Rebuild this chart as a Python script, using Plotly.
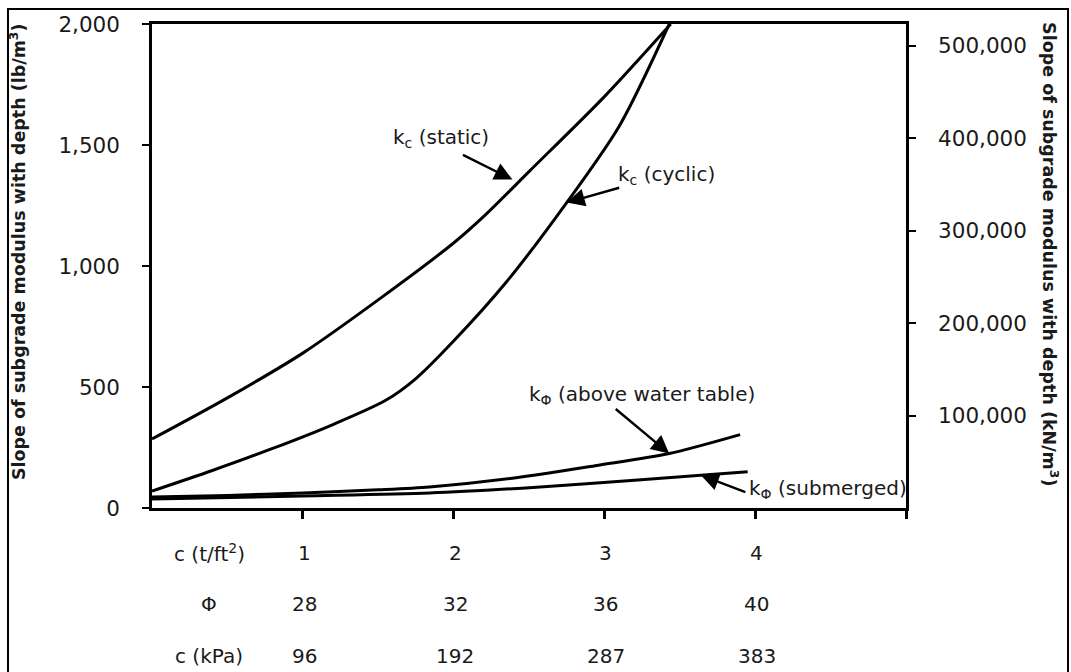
import plotly.graph_objects as go

# Clay strength parameters along the horizontal scale
c_tsf = [1, 2, 3, 4]
phi_deg = [28, 32, 36, 40]
c_kpa = [96, 192, 287, 383]

# k_c (static), lb/ft^3 per ft
static_x = [0, 0.5, 1.0, 1.5, 2.0, 2.2, 2.5, 3.0, 3.44]
static_y = [285, 455, 640, 860, 1095, 1205, 1390, 1700, 2000]

# k_c (cyclic)
cyclic_x = [0, 0.4, 0.8, 1.2, 1.55, 1.75, 2.0, 2.35, 2.75, 3.1, 3.43]
cyclic_y = [70, 155, 246, 345, 445, 535, 690, 934, 1262, 1580, 2000]

# k_phi (above water table)
above_x = [0, 0.5, 1.0, 1.5, 1.84, 2.39, 2.95, 3.43, 3.9]
above_y = [45, 52, 62, 75, 87, 123, 176, 225, 303]

# k_phi (submerged)
sub_x = [0, 1.0, 1.84, 2.55, 3.2, 3.64, 3.95]
sub_y = [37, 50, 62, 86, 115, 135, 150]

FONT = "DejaVu Sans"
INK = "#1a1a1a"

fig = go.Figure()
for xs, ys in [(static_x, static_y), (cyclic_x, cyclic_y),
               (above_x, above_y), (sub_x, sub_y)]:
    fig.add_trace(go.Scatter(x=xs, y=ys, mode="lines",
                             line=dict(color="black", width=3, shape="spline", smoothing=0.8),
                             showlegend=False, hoverinfo="skip"))
# secondary scale in kN/m^3
fig.add_trace(go.Scatter(x=[None], y=[None], yaxis="y2", showlegend=False))

annotations = []


def label(x_px_text, y_px_text, text):
    annotations.append(dict(xref="paper", yref="paper",
                            x=(x_px_text - 152) / 754, y=(508 - y_px_text) / 488,
                            xanchor="left", yanchor="middle", text=text, showarrow=False,
                            font=dict(family=FONT, size=20, color=INK)))


def arrow(x, y, ax, ay):
    annotations.append(dict(x=x, y=y, xref="x", yref="y", ax=ax, ay=ay, text="",
                            font=dict(size=1), borderpad=0,
                            showarrow=True, arrowhead=2, arrowsize=1.5, arrowwidth=2.4,
                            arrowcolor="black"))


label(391, 135, "k<sub>c</sub> (static)")
arrow(static_x[6] - 0.11, 1357, -50, -25)
label(616, 172, "k<sub>c</sub> (cyclic)")
arrow(cyclic_x[8], cyclic_y[8], 53, -15)
label(527, 394, "k<sub>Φ</sub> (above water table)")
arrow(above_x[7], above_y[7], -54, -45)
label(747, 489, "k<sub>Φ</sub> (submerged)")
arrow(sub_x[5], sub_y[5], 45, 17)

# rows of x-scale labels under the axis
rows = [("c (t/ft<sup>2</sup>)", c_tsf, 553), ("Φ", phi_deg, 605), ("c (kPa)", c_kpa, 657)]
for name, vals, ypx in rows:
    yp = (508 - ypx) / 488
    annotations.append(dict(xref="x", yref="paper", x=0.38, y=yp, text=name, showarrow=False,
                            xanchor="center", yanchor="middle",
                            font=dict(family=FONT, size=20, color=INK)))
    for pos, v in zip(c_tsf, vals):
        annotations.append(dict(xref="x", yref="paper", x=pos + 0.01, y=yp, text=str(v),
                                showarrow=False, xanchor="center", yanchor="middle",
                                font=dict(family=FONT, size=20, color=INK)))

# axis titles
annotations.append(dict(xref="paper", yref="paper", x=(18 - 152) / 754, y=(508 - 250) / 488,
                        text="Slope of subgrade modulus with depth (lb/m<sup>3</sup>)",
                        textangle=-90, showarrow=False, xanchor="center", yanchor="middle",
                        font=dict(family=FONT, size=17.5, color=INK, weight="bold")))
annotations.append(dict(xref="paper", yref="paper", x=(1050 - 152) / 754, y=(508 - 252) / 488,
                        text="Slope of subgrade modulus with depth (kN/m<sup>3</sup>)",
                        textangle=90, showarrow=False, xanchor="center", yanchor="middle",
                        font=dict(family=FONT, size=17.5, color=INK, weight="bold")))

axis_line = dict(showline=True, linecolor="black", linewidth=2.5, showgrid=False, zeroline=False)

fig.update_layout(
    width=1071, height=672,
    margin=dict(l=152, r=165, t=20, b=164),
    paper_bgcolor="white", plot_bgcolor="white",
    xaxis=dict(range=[0, 5], tickvals=[1, 2, 3, 4, 5], ticks="outside", ticklen=8,
               tickwidth=2.5, tickcolor="black", showticklabels=False, mirror=True, **axis_line),
    yaxis=dict(range=[0, 2000], tickvals=[0, 500, 1000, 1500, 2000], tickformat=",",
               ticks="outside", ticklen=7, tickwidth=2, tickcolor="black",
               ticklabelstandoff=18,
               tickfont=dict(family=FONT, size=21.5, color=INK), **axis_line),
    yaxis2=dict(overlaying="y", side="right", range=[0, 523600],
                tickvals=[100000, 200000, 300000, 400000, 500000], tickformat=",",
                ticks="outside", ticklen=7, tickwidth=2, tickcolor="black",
                ticklabelstandoff=18,
                tickfont=dict(family=FONT, size=21.5, color=INK), **axis_line),
    annotations=annotations,
    shapes=[dict(type="rect", xref="paper", yref="paper",
                 x0=(8 - 152) / 754, x1=(1068 - 152) / 754,
                 y0=(508 - 700) / 488, y1=(508 - 5) / 488,
                 line=dict(color="black", width=2), layer="below")],
)

fig.write_html("out.html")
